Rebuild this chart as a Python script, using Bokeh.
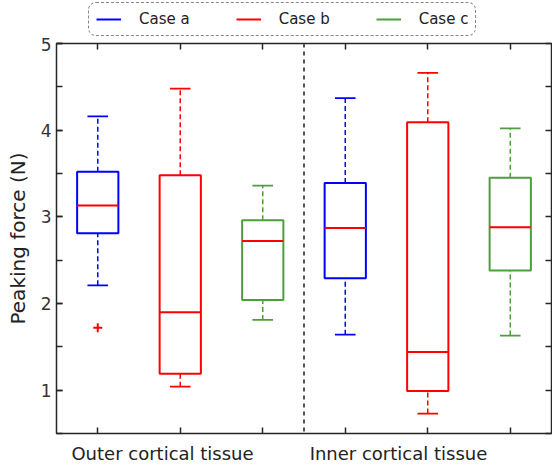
import numpy as np
from bokeh.plotting import figure
from bokeh.layouts import column
from bokeh.models import (ColumnDataSource, Legend, LegendItem, Span,
                          LinearAxis, FixedTicker, CustomJSTickFormatter)
from bokeh.embed import file_html
from bokeh.resources import INLINE

# ---- data ----
groups = ["Outer cortical tissue", "Inner cortical tissue"]
cases = ["Case a", "Case b", "Case c"]
case_colors = ["#0000ff", "#ff0000", "#4c9f3c"]

lower_whisker = {"Case a": [2.21, 1.64], "Case b": [1.04, 0.73], "Case c": [1.81, 1.63]}
q1 = {"Case a": [2.81, 2.29], "Case b": [1.19, 0.99], "Case c": [2.04, 2.38]}
median = {"Case a": [3.13, 2.87], "Case b": [1.90, 1.44], "Case c": [2.72, 2.88]}
q3 = {"Case a": [3.52, 3.39], "Case b": [3.48, 4.09], "Case c": [2.96, 3.45]}
upper_whisker = {"Case a": [4.16, 4.37], "Case b": [4.48, 4.66], "Case c": [3.36, 4.02]}
outlier_case = ["Case a"]
outlier_group = [0]
outlier_value = [1.72]

FONT = "DejaVu Sans"
FRAME = "#262626"
Y0, Y1 = 0.5, 5
X0, X1 = 0.5, 6.5
group_label_pos = [1.785, 4.645]   # where the group names sit along x

p = figure(width=552, height=429, x_range=(X0, X1), y_range=(Y0, Y1),
           output_backend="svg", toolbar_location=None,
           min_border_left=56, min_border_top=6, min_border_right=1,
           min_border_bottom=33, x_axis_location=None, y_axis_location=None)
p.grid.visible = False
p.outline_line_color = FRAME
p.outline_line_width = 1.5

box_w = 0.5
cap_w = 0.25
case_x = {}
for k, case in enumerate(cases):
    xs = [g * 3 + k + 1 for g in range(len(groups))]
    case_x[case] = xs
    col = case_colors[k]
    src = ColumnDataSource(dict(x=xs, lo=lower_whisker[case], q1=q1[case], med=median[case],
                                q3=q3[case], hi=upper_whisker[case],
                                xl=[x - box_w / 2 for x in xs], xr=[x + box_w / 2 for x in xs],
                                cl=[x - cap_w / 2 for x in xs], cr=[x + cap_w / 2 for x in xs]))
    p.segment(x0="x", y0="q3", x1="x", y1="hi", source=src, line_color=col,
              line_width=1.5, line_dash="5 3")
    p.segment(x0="x", y0="lo", x1="x", y1="q1", source=src, line_color=col,
              line_width=1.5, line_dash="5 3")
    p.segment(x0="cl", y0="hi", x1="cr", y1="hi", source=src, line_color=col, line_width=1.8)
    p.segment(x0="cl", y0="lo", x1="cr", y1="lo", source=src, line_color=col, line_width=1.8)
    p.quad(left="xl", right="xr", bottom="q1", top="q3", source=src, fill_color=None,
           line_color=col, line_width=2)
    p.segment(x0="xl", y0="med", x1="xr", y1="med", source=src, line_color="#ff0000", line_width=2)

ox = [g * 3 + cases.index(c) + 1 for c, g in zip(outlier_case, outlier_group)]
p.scatter(x=ox, y=outlier_value, marker="cross", size=9, line_color="#ff0000", line_width=2)

p.add_layout(Span(location=3.5, dimension="height", line_color="#555555",
                  line_width=2, line_dash="4 4"))

box_ticks = list(range(1, len(groups) * len(cases) + 1))
y_minor = list(np.arange(Y0, Y1 + 0.01, 0.5))


def style_ticks(ax):
    ax.axis_line_color = None
    ax.major_tick_in = 6
    ax.major_tick_out = 0
    ax.minor_tick_in = 6
    ax.minor_tick_out = 0
    ax.major_tick_line_color = FRAME
    ax.minor_tick_line_color = FRAME
    ax.major_tick_line_width = 1.5
    ax.minor_tick_line_width = 1.5


left = LinearAxis(ticker=FixedTicker(ticks=[1, 2, 3, 4, 5], minor_ticks=y_minor),
                  axis_label="Peaking force (N)")
style_ticks(left)
left.major_label_text_font = FONT
left.major_label_text_font_size = "17px"
left.major_label_text_color = "#333333"
left.major_label_standoff = 5
left.axis_label_text_font = FONT
left.axis_label_text_font_size = "20px"
left.axis_label_text_font_style = "normal"
left.axis_label_text_color = "#222222"
left.axis_label_standoff = 8
p.add_layout(left, "left")

right = LinearAxis(ticker=FixedTicker(ticks=[], minor_ticks=y_minor))
style_ticks(right)
p.add_layout(right, "right")

top = LinearAxis(ticker=FixedTicker(ticks=[], minor_ticks=box_ticks))
style_ticks(top)
p.add_layout(top, "above")

bottom = LinearAxis(ticker=FixedTicker(ticks=group_label_pos, minor_ticks=box_ticks),
                    formatter=CustomJSTickFormatter(args=dict(names=groups),
                                                    code="return names[index];"))
style_ticks(bottom)
bottom.major_tick_in = 0
bottom.major_label_standoff = 9
bottom.major_label_text_font = FONT
bottom.major_label_text_font_size = "18px"
bottom.major_label_text_color = "#222222"
p.add_layout(bottom, "below")

# ---- legend strip (its key lines are drawn off-screen; only the legend shows) ----
lf = figure(width=552, height=37, x_range=(-2, -1), y_range=(-2, -1),
            output_backend="svg", toolbar_location=None, min_border=0,
            x_axis_location=None, y_axis_location=None)
lf.grid.visible = False
lf.outline_line_color = None
items = []
for case, col in zip(cases, case_colors):
    r = lf.line(x=case_x[case], y=median[case], line_color=col, line_width=2)
    items.append(LegendItem(label=case, renderers=[r]))

legend = Legend(items=items, orientation="horizontal", location=(32, 1))
legend.label_text_font = FONT
legend.label_text_font_size = "15px"
legend.label_text_color = "#222222"
legend.glyph_width = 25
legend.glyph_height = 14
legend.label_height = 14
legend.label_standoff = 18
legend.spacing = 46
legend.padding = 7
legend.margin = 0
legend.border_line_color = "#111111"
legend.border_line_width = 1.5
legend.border_line_dash = "4 3"
legend.background_fill_alpha = 0
legend.border_radius = 8
lf.add_layout(legend, "center")

layout = column(lf, p, spacing=0)
open("out.html", "w").write(file_html(layout, INLINE))
